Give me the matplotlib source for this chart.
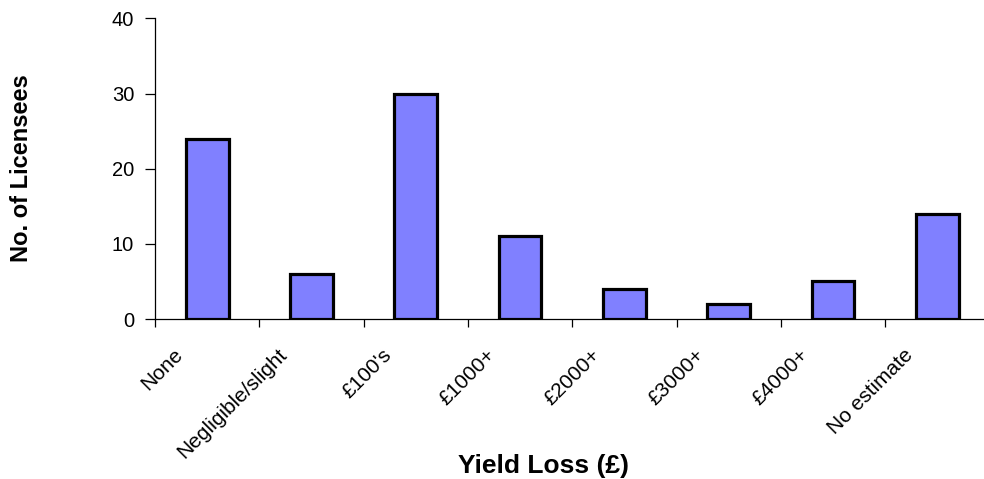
import numpy as np
from matplotlib import pyplot as plt

categories = ['None', 'Negligible/slight', '£100\'s', '£1000+', '£2000+',
              '£3000+', '£4000+', 'No estimate']
licensees = [24, 6, 30, 11, 4, 2, 5, 14]

plt.rcParams['font.family'] = ['Liberation Sans', 'DejaVu Sans']

fig = plt.figure(figsize=(9.84, 4.79), dpi=100)
ax = fig.add_axes([0.1575, 0.334, 0.848, 0.6274])

x = np.arange(len(categories))
ax.bar(x, licensees, width=0.41, color='#8080FF', edgecolor='black',
       linewidth=2.3, zorder=3)

ax.set_xlim(-0.5, len(categories) - 0.5)
ax.set_ylim(0, 40)
ax.set_yticks(range(0, 41, 10))
ax.set_xticks(np.arange(len(categories) + 1) - 0.5)
ax.set_xticklabels([])

for s in ['top', 'right']:
    ax.spines[s].set_visible(False)
for s in ['left', 'bottom']:
    ax.spines[s].set_linewidth(0.9)
ax.tick_params(axis='y', length=7, width=0.9, pad=8, labelsize=14.5)
ax.tick_params(axis='x', length=6, width=0.9)

# category names, slanted, ending just left of each bar
for xi, name in zip(x, categories):
    ax.text(xi - 0.26, -0.11, name, transform=ax.get_xaxis_transform(),
            rotation=45, rotation_mode='anchor', ha='right', va='center',
            fontsize=15)

fig.text(0.022, 0.65, 'No. of Licensees', rotation=90, ha='center',
         va='center', fontsize=17, fontweight='bold')
fig.text(0.552, 0.028, 'Yield Loss (£)', ha='center', va='center',
         fontsize=19, fontweight='bold')

plt.savefig('out.png', dpi=100)
